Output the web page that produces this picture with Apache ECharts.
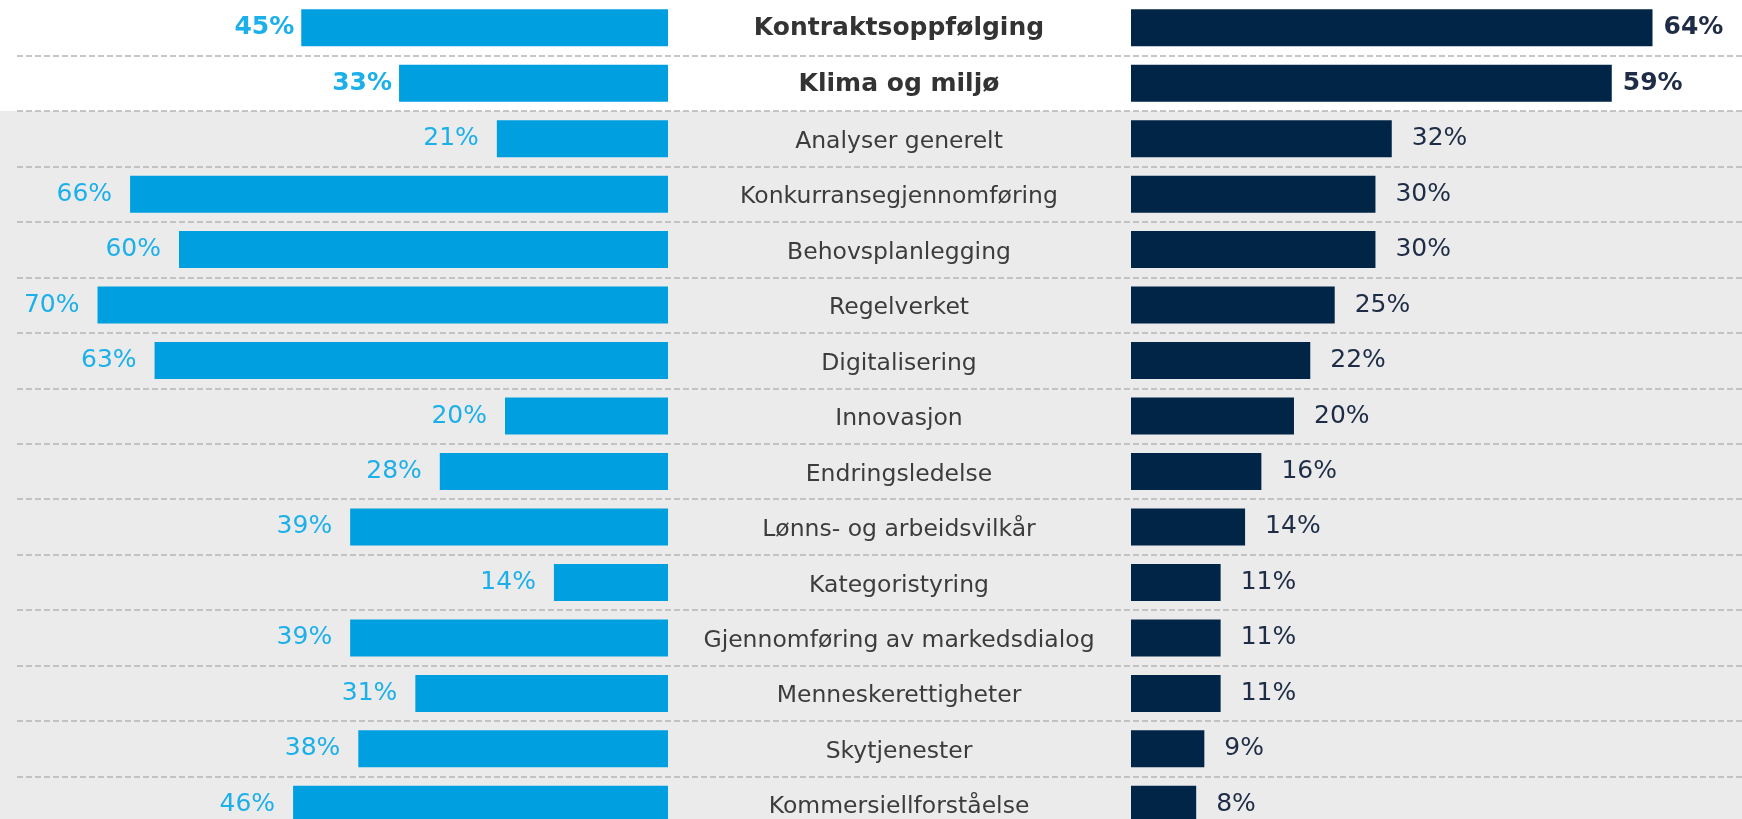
<!DOCTYPE html>
<html>
<head>
<meta charset="utf-8">
<script src="https://cdn.jsdelivr.net/npm/echarts@6/dist/echarts.min.js"></script>
<style>
html,body{margin:0;padding:0;background:#fff;overflow:hidden;}
#chart{width:1742px;height:860px;}
</style>
</head>
<body>
<div id="chart"></div>
<script>
const categories = [
  'Kontraktsoppfølging','Klima og miljø','Analyser generelt','Konkurransegjennomføring',
  'Behovsplanlegging','Regelverket','Digitalisering','Innovasjon','Endringsledelse',
  'Lønns- og arbeidsvilkår','Kategoristyring','Gjennomføring av markedsdialog',
  'Menneskerettigheter','Skytjenester','Kommersiellforståelse'
];
const leftValues = [45,33,21,66,60,70,63,20,28,39,14,39,31,38,46];
const rightValues = [64,59,32,30,30,25,22,20,16,14,11,11,11,9,8];
const highlightCount = 2;

const FONT = "'DejaVu Sans',sans-serif";
const TOP = 0, ROWH = 55.47, H = ROWH * categories.length;

const chart = echarts.init(document.getElementById('chart'));

function mk(vals, dist) {
  return vals.map((v, i) => i < highlightCount
    ? {value: v, label: {fontWeight: 'bold', fontSize: 25, distance: dist}}
    : v);
}

chart.setOption({
  animation: false,
  graphic: [{
    type: 'rect', z: -10, silent: true,
    shape: {x: 0, y: TOP + 2 * ROWH, width: 1742, height: 900},
    style: {fill: '#ebebeb'}
  }],
  grid: [
    {left: 16, width: 652, top: TOP, height: H, containLabel: false},
    {left: 1131, width: 603, top: TOP, height: H, containLabel: false},
    {left: 17, right: 0, top: TOP, height: H, containLabel: false}
  ],
  xAxis: [
    {gridIndex: 0, type: 'value', min: 0, max: 80, inverse: true, show: false},
    {gridIndex: 1, type: 'value', min: 0, max: 74, show: false},
    {gridIndex: 2, type: 'value', min: 0, max: 1, show: false}
  ],
  yAxis: [
    {gridIndex: 0, type: 'category', data: categories, inverse: true, show: false},
    {gridIndex: 1, type: 'category', data: categories, inverse: true,
      axisLine: {show: false}, axisTick: {show: false}, splitLine: {show: false},
      axisLabel: {
        show: true, margin: 232, align: 'center', interval: 0,
        formatter: (v, i) => i < highlightCount ? '{b|' + v + '}' : '{n|' + v + '}',
        rich: {
          b: {fontFamily: FONT, fontSize: 25, fontWeight: 'bold', color: '#333333', padding: [2, 0, 0, 0]},
          n: {fontFamily: FONT, fontSize: 23.5, color: '#3c3c3c', padding: [6, 0, 0, 0]}
        }
      }
    },
    {gridIndex: 2, type: 'category', data: categories, inverse: true,
      axisLine: {show: false}, axisTick: {show: false}, axisLabel: {show: false},
      splitLine: {show: true, showMinLine: false, showMaxLine: false,
        lineStyle: {color: '#b5b5b5', width: 1.5, type: [6, 3]}}
    }
  ],
  series: [
    {type: 'bar', xAxisIndex: 0, yAxisIndex: 0, data: mk(leftValues, 7), barWidth: 37,
      itemStyle: {color: '#009fe0'},
      label: {show: true, position: 'left', distance: 18, formatter: '{c}%',
        fontFamily: FONT, fontSize: 25, color: '#1cb0ea'}},
    {type: 'bar', xAxisIndex: 1, yAxisIndex: 1, data: mk(rightValues, 11), barWidth: 37,
      itemStyle: {color: '#002547'},
      label: {show: true, position: 'right', distance: 20, formatter: '{c}%',
        fontFamily: FONT, fontSize: 25, color: '#1e2c46'}}
  ]
});
</script>
</body>
</html>
